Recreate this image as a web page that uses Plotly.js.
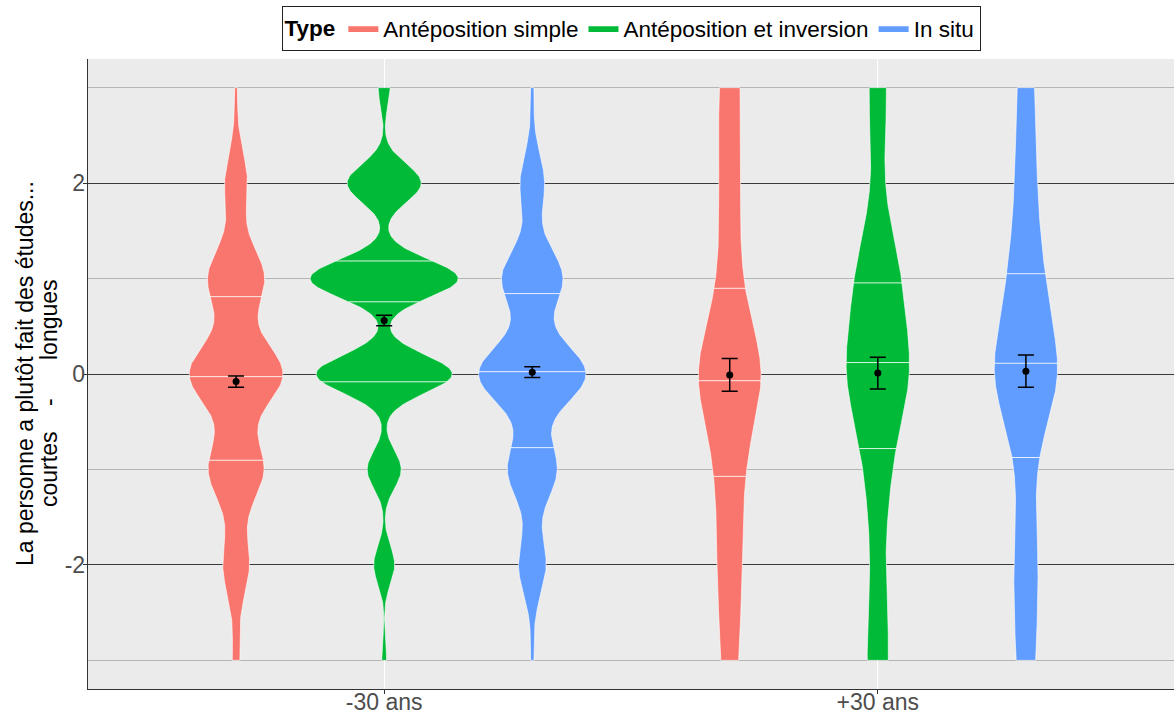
<!DOCTYPE html>
<html><head><meta charset="utf-8">
<script src="https://cdn.plot.ly/plotly-3.0.1.min.js"></script>
<style>html,body{margin:0;padding:0;background:#fff}#chart{width:1174px;height:718px}</style>
</head><body><div id="chart"></div>
<script>
// ---- data ----
const responseLevels = [-3, -2, -1, 0, 1, 2, 3];
const ageGroups = ['-30 ans', '+30 ans'];
const typeNames = ['Antéposition simple', 'Antéposition et inversion', 'In situ'];
const typeColors = ['#F8766D', '#00BA38', '#619CFF'];
// number of answers per response level (-3 .. 3)
const simpleYoung    = [12, 43, 90, 152, 92, 37, 4];
const inversionYoung = [5, 21, 34, 136, 148, 74, 12];
const inSituYoung    = [5, 43, 77, 167, 95, 38, 5];
const simpleOld      = [9, 12, 13, 35, 10, 10, 11];
const inversionOld   = [12, 6, 12, 33, 23, 4, 10];
const inSituOld      = [10, 12, 7, 35, 17, 10, 9];
const quantileProbs = [0.25, 0.5, 0.75];
const yTitleLines = ['La personne a plutôt fait des études...', 'courtes\u00A0\u00A0\u00A0 -\u00A0\u00A0\u00A0\u00A0\u00A0 longues'];

const countsByType = [[simpleYoung, simpleOld], [inversionYoung, inversionOld], [inSituYoung, inSituOld]];

// ---- stats (like ggplot stat_ydensity + mean_se) ----
function expand(counts) { const a = []; counts.forEach((c, i) => { for (let j = 0; j < c; j++) a.push(responseLevels[i]); }); return a; }
function quantile7(s, p) { const h = (s.length - 1) * p; const lo = Math.floor(h); const hi = Math.min(lo + 1, s.length - 1); return s[lo] + (h - lo) * (s[hi] - s[lo]); }
function summarize(counts) {
  const x = expand(counts).sort((a, b) => a - b); const n = x.length;
  const mean = x.reduce((s, v) => s + v, 0) / n;
  const sd = Math.sqrt(x.reduce((s, v) => s + (v - mean) * (v - mean), 0) / (n - 1));
  const iqr = quantile7(x, 0.75) - quantile7(x, 0.25);
  const lo = Math.min(sd, iqr / 1.34);
  return { n, mean, sd, se: sd / Math.sqrt(n), bw: 0.9 * lo * Math.pow(n, -0.2), min: x[0], max: x[n - 1] };
}
function kde(st, counts) {
  const N = 512, ys = [], ds = [];
  for (let i = 0; i < N; i++) {
    const y = st.min + (st.max - st.min) * i / (N - 1); let d = 0;
    counts.forEach((c, k) => { const z = (y - responseLevels[k]) / st.bw; d += c * Math.exp(-0.5 * z * z); });
    ys.push(y); ds.push(d / (st.n * st.bw * Math.sqrt(2 * Math.PI)));
  }
  return { ys, ds };
}

const dodge = 0.3, halfMax = 0.15;
const groups = [];
typeNames.forEach((t, ti) => ageGroups.forEach((g, gi) => {
  const counts = countsByType[ti][gi];
  const st = summarize(counts);
  const dens = kde(st, counts);
  groups.push({ ti, gi, st, dens, xc: gi + 1 + (ti - 1) * dodge });
}));
const maxDens = Math.max(...groups.map(g => Math.max(...g.dens.ds)));

const traces = [];
typeNames.forEach((t, ti) => {
  const xs = [], ys = [];
  groups.filter(g => g.ti === ti).forEach(g => {
    const { ys: yy, ds } = g.dens;
    for (let i = 0; i < yy.length; i++) { xs.push(g.xc + ds[i] / maxDens * halfMax); ys.push(yy[i]); }
    for (let i = yy.length - 1; i >= 0; i--) { xs.push(g.xc - ds[i] / maxDens * halfMax); ys.push(yy[i]); }
    xs.push(xs[xs.length - yy.length * 2]); ys.push(ys[ys.length - yy.length * 2]);
    xs.push(null); ys.push(null);
  });
  traces.push({ type: 'scatter', mode: 'lines', x: xs, y: ys, fill: 'toself', fillcolor: typeColors[ti],
    line: { color: '#ffffff', width: 0.6 }, name: t, hoverinfo: 'skip' });
});

// quantile lines
const qx = [], qy = [];
groups.forEach(g => {
  const { ys, ds } = g.dens; const tot = ds.reduce((s, v) => s + v, 0);
  let c = 0; const cum = ds.map(v => (c += v) / tot);
  quantileProbs.forEach(p => {
    let i = cum.findIndex(v => v >= p); if (i < 1) i = 1;
    const f = (p - cum[i - 1]) / (cum[i] - cum[i - 1]);
    const yq = ys[i - 1] + f * (ys[i] - ys[i - 1]);
    const w = (ds[i - 1] + f * (ds[i] - ds[i - 1])) / maxDens * halfMax;
    qx.push(g.xc - w, g.xc + w, null); qy.push(yq, yq, null);
  });
});
traces.push({ type: 'scatter', mode: 'lines', x: qx, y: qy, line: { color: 'rgba(255,255,255,0.85)', width: 1 }, showlegend: false, hoverinfo: 'skip' });

// means with standard errors
traces.push({ type: 'scatter', mode: 'markers', x: groups.map(g => g.xc), y: groups.map(g => g.st.mean),
  marker: { color: '#000', size: 7 },
  error_y: { type: 'data', array: groups.map(g => g.st.se), color: '#000', thickness: 1.5, width: 8 },
  showlegend: false });

const font = 'Liberation Sans, Arial, Helvetica, sans-serif';
const layout = {
  width: 1174, height: 718,
  margin: { l: 88, r: 0, t: 59, b: 29 },
  paper_bgcolor: '#ffffff', plot_bgcolor: '#EBEBEB',
  font: { family: font, size: 22.5, color: '#000' },
  showlegend: true,
  legend: { orientation: 'h', x: 0.5, xanchor: 'center', y: 1.013, yanchor: 'bottom',
    bordercolor: '#222', borderwidth: 1, bgcolor: '#fff', font: { size: 22.5, color: '#000' },
    title: { text: '<b>Type</b>', font: { size: 22.5 } }, itemwidth: 30 },
  xaxis: { range: [0.4, 2.6], tickvals: [1, 2], ticktext: ageGroups, showgrid: true, gridcolor: '#ffffff', gridwidth: 1,
    zeroline: false, showline: true, linecolor: '#333', linewidth: 1.3, ticks: 'outside', ticklen: 4, tickcolor: '#333',
    tickfont: { size: 23, color: '#4D4D4D' }, ticklabelstandoff: -12, automargin: false, fixedrange: true },
  yaxis: { range: [-3.3, 3.3], tickvals: [-2, 0, 2], ticktext: ['-2', '0', '2'], showgrid: true, gridcolor: '#3a3a3a', gridwidth: 1,
    minor: { tickvals: [-3, -1, 1, 3], showgrid: true, gridcolor: '#B5B5B5', gridwidth: 1.3, ticks: '' },
    zeroline: false, showline: true, linecolor: '#333', linewidth: 1.3, ticks: 'outside', ticklen: 4, tickcolor: '#333',
    tickfont: { size: 23, color: '#4D4D4D' }, ticklabelstandoff: -7, automargin: false },
  annotations: [
    { text: yTitleLines[0], xref: 'paper', yref: 'paper', x: 0, y: 0.5, xanchor: 'center', yanchor: 'middle',
      xshift: -63, yshift: 0, textangle: -90, showarrow: false, font: { size: 23, color: '#000' } },
    { text: yTitleLines[1], xref: 'paper', yref: 'paper', x: 0, y: 0.5, xanchor: 'center', yanchor: 'middle',
      xshift: -39, yshift: -19, textangle: -90, showarrow: false, font: { size: 23, color: '#000' } }
  ]
};
Plotly.newPlot('chart', traces, layout, { displayModeBar: false, staticPlot: true });
</script></body></html>
